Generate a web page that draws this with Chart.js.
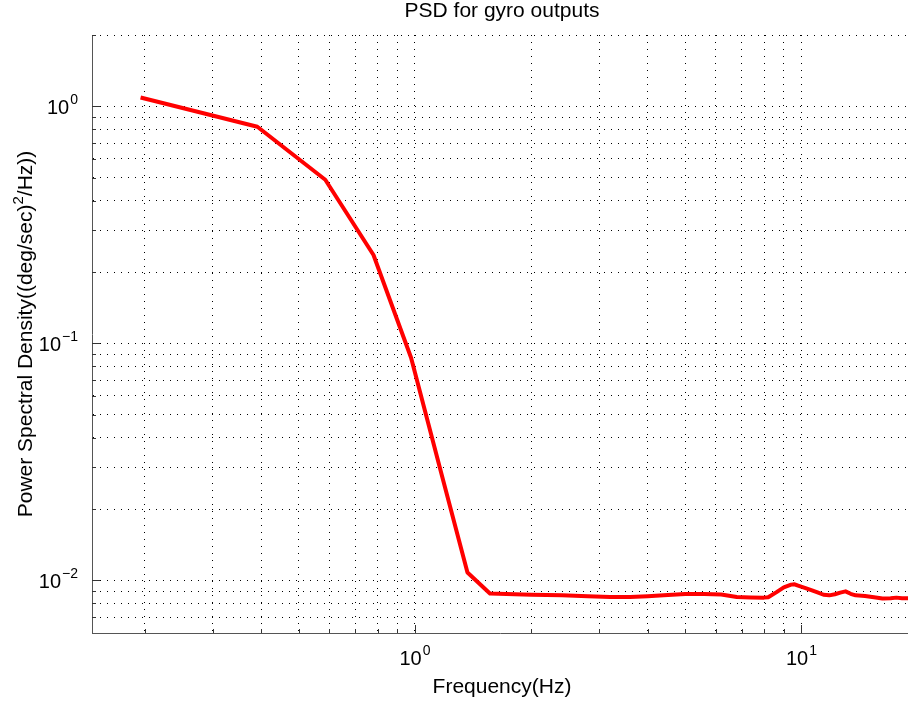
<!DOCTYPE html>
<html>
<head>
<meta charset="utf-8">
<title>PSD for gyro outputs</title>
<script src="https://cdn.jsdelivr.net/npm/chart.js@4.4.0/dist/chart.umd.min.js"></script>
<style>
  html, body { margin: 0; padding: 0; background: #fff; }
  canvas { display: block; }
</style>
</head>
<body>
<canvas id="psdChart" width="908" height="704"></canvas>
<script>
// values
var freq = [0.195, 0.391, 0.586, 0.781, 0.977, 1.172, 1.367, 1.563, 2.0, 2.4, 2.8, 3.2, 3.6, 4.0, 4.4,
  5.0, 5.6, 6.2, 6.8, 7.4, 8.0, 8.2, 8.6, 9.0, 9.4, 9.6, 9.8, 10.2, 10.6, 11.0, 11.4,
  11.8, 12.2, 12.6, 13.0, 13.4, 13.8, 14.6, 15.4, 16.2, 17.0, 17.6, 18.2, 19.0];
var psd = [1.09, 0.82, 0.49, 0.236, 0.087, 0.028, 0.0108, 0.0088, 0.0087, 0.00865, 0.00858,
  0.00852, 0.00851, 0.00858, 0.00866, 0.00876, 0.00876, 0.00872, 0.00852, 0.00848, 0.00846,
  0.00849, 0.0089, 0.00935, 0.0096, 0.00963, 0.0095, 0.0093, 0.0091, 0.0089, 0.0087,
  0.00865, 0.00874, 0.00888, 0.00899, 0.00878, 0.00865, 0.0086, 0.00849, 0.00839, 0.00841,
  0.00846, 0.00841, 0.00841];

// grid lines and labelled decades
var xGrid = [0.2, 0.3, 0.4, 0.5, 0.6, 0.7, 0.8, 0.9, 1, 2, 3, 4, 5, 6, 7, 8, 9, 10];
var yGrid = [0.007, 0.008, 0.009, 0.01, 0.02, 0.03, 0.04, 0.05, 0.06, 0.07, 0.08, 0.09,
  0.1, 0.2, 0.3, 0.4, 0.5, 0.6, 0.7, 0.8, 0.9, 1, 2];
var xMajor = [1, 10];
var xMajorExp = ['0', '1'];
var yMajor = [0.01, 0.1, 1];
var yMajorExp = ['\u22122', '\u22121', '0'];

var FONT = '"Liberation Sans", Arial, Helvetica, sans-serif';

function powLabel(ctx, exp, x, y, align) {
  ctx.font = '20px ' + FONT;
  var w1 = ctx.measureText('10').width;
  ctx.font = '14px ' + FONT;
  var w2 = ctx.measureText(exp).width;
  var left = align === 'right' ? x - w1 - w2 - 1 : x - (w1 + w2 + 1) / 2;
  ctx.font = '20px ' + FONT;
  ctx.fillText('10', left, y);
  ctx.font = '14px ' + FONT;
  ctx.fillText(exp, left + w1 + 1, y - 10);
}

// inward ticks, power-of-ten labels and titles
var decorations = {
  id: 'decorations',
  afterDraw: function(chart) {
    var ctx = chart.ctx;
    var area = chart.chartArea;
    var xs = chart.scales.x, ys = chart.scales.y;
    ctx.save();
    ctx.strokeStyle = '#333';
    ctx.lineWidth = 1;
    ctx.beginPath();
    xGrid.forEach(function(v) {
      var px = Math.round(xs.getPixelForValue(v)) + 0.5;
      var len = xMajor.indexOf(v) >= 0 ? 8 : 4;
      ctx.moveTo(px, area.bottom);
      ctx.lineTo(px, area.bottom - len);
    });
    yGrid.forEach(function(v) {
      var py = Math.round(ys.getPixelForValue(v)) + 0.5;
      var len = yMajor.indexOf(v) >= 0 ? 8 : 4;
      ctx.moveTo(area.left, py);
      ctx.lineTo(area.left + len, py);
    });
    ctx.stroke();

    ctx.fillStyle = '#000';
    ctx.textBaseline = 'alphabetic';
    ctx.textAlign = 'left';
    xMajor.forEach(function(v, i) {
      powLabel(ctx, xMajorExp[i], xs.getPixelForValue(v), 665, 'center');
    });
    yMajor.forEach(function(v, i) {
      powLabel(ctx, yMajorExp[i], 78, ys.getPixelForValue(v) + 8, 'right');
    });

    var cx = (area.left + area.right) / 2 + 2;
    ctx.textAlign = 'center';
    ctx.font = '21px ' + FONT;
    ctx.fillText('PSD for gyro outputs', cx, 17);
    ctx.fillText('Frequency(Hz)', cx, 693);

    // y title with superscript 2
    var p1 = 'Power Spectral Density((deg/sec)', p2 = '2', p3 = '/Hz))';
    ctx.textAlign = 'left';
    ctx.font = '21px ' + FONT;
    var w1 = ctx.measureText(p1).width, w3 = ctx.measureText(p3).width;
    ctx.font = '15px ' + FONT;
    var w2 = ctx.measureText(p2).width;
    var total = w1 + w2 + w3;
    ctx.translate(31.5, (area.top + area.bottom) / 2);
    ctx.rotate(-Math.PI / 2);
    var sx = -total / 2;
    ctx.font = '21px ' + FONT;
    ctx.fillText(p1, sx, 0);
    ctx.font = '15px ' + FONT;
    ctx.fillText(p2, sx + w1, -9);
    ctx.font = '21px ' + FONT;
    ctx.fillText(p3, sx + w1 + w2, 0);
    ctx.restore();
  }
};

var points = freq.map(function(f, i) { return { x: f, y: psd[i] }; });

var psdChart = new Chart(document.getElementById('psdChart'), {
  type: 'line',
  data: {
    datasets: [
      {
        label: 'PSD',
        data: points,
        borderColor: '#ff0000',
        borderWidth: 4,
        borderJoinStyle: 'round',
        pointRadius: 0,
        tension: 0,
        fill: false
      }
    ]
  },
  options: {
    responsive: false,
    animation: false,
    events: [],
    layout: { padding: { top: 35, left: 0, right: 0, bottom: 0 } },
    plugins: {
      legend: { display: false },
      tooltip: { enabled: false },
      title: { display: false }
    },
    scales: {
      x: {
        type: 'logarithmic',
        min: 0.146,
        max: 18.86,
        afterBuildTicks: function(axis) {
          axis.ticks = xGrid.map(function(v) { return { value: v }; });
        },
        afterFit: function(axis) { axis.height = 71; },
        ticks: { display: false },
        grid: { color: '#000', lineWidth: 1, drawTicks: false },
        border: { display: true, color: '#555', width: 1, dash: [1, 6] }
      },
      y: {
        type: 'logarithmic',
        min: 0.006,
        max: 2,
        afterBuildTicks: function(axis) {
          axis.ticks = yGrid.map(function(v) { return { value: v }; });
        },
        afterFit: function(axis) { axis.width = 92; },
        ticks: { display: false },
        grid: { color: '#000', lineWidth: 1, drawTicks: false },
        border: { display: true, color: '#555', width: 1, dash: [1, 6] }
      }
    }
  },
  plugins: [decorations]
});
</script>
</body>
</html>
